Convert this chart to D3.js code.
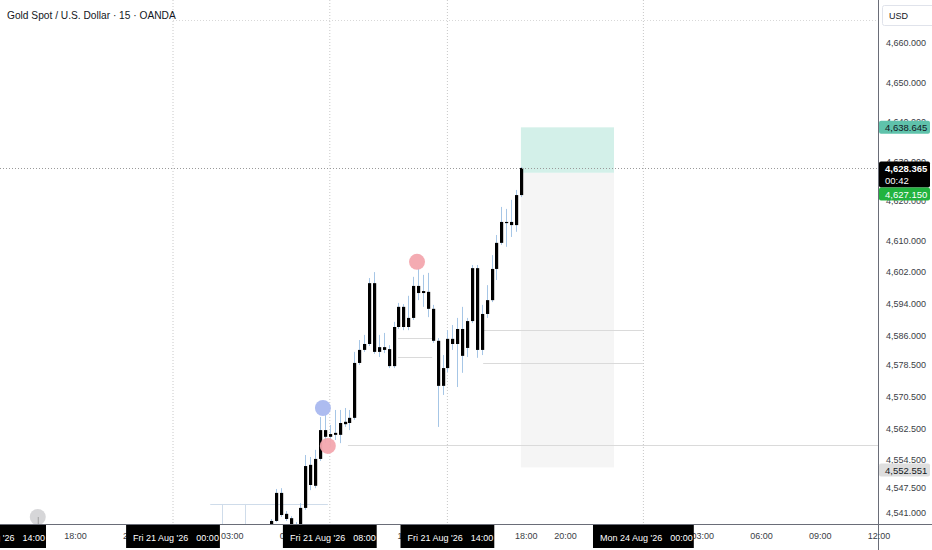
<!DOCTYPE html>
<html><head><meta charset="utf-8">
<script src="https://cdn.jsdelivr.net/npm/d3@7"></script>
<style>
html,body{margin:0;padding:0;background:#fff;overflow:hidden;}
svg{display:block;font-family:"Liberation Sans",Arial,sans-serif;}
</style></head><body>
<svg id="chart" width="932" height="550"></svg>
<script>
// ---- data ----
const title = "Gold Spot / U.S. Dollar \u00b7 15 \u00b7 OANDA";
const times = ["05:00","05:15","05:30","05:45","06:00","06:15","06:30","06:45","07:00","07:15","07:30","07:45",
  "08:00","08:15","08:30","08:45","09:00","09:15","09:30","09:45","10:00","10:15","10:30","10:45",
  "11:00","11:15","11:30","11:45","12:00","12:15","12:30","12:45","13:00","13:15","13:30","13:45",
  "14:00","14:15","14:30","14:45","15:00","15:15","15:30","15:45","16:00","16:15","16:30","16:45",
  "17:00","17:15","17:30","17:45"];
const open = [4538.2,4539.0,4546.1,4540.8,4539.7,4538.2,4536.7,4542.3,4553.2,4547.9,4554.7,4562.0,4560.3,4560.8,4560.8,4563.5,4563.8,4565.1,4579.0,4582.3,4583.8,4599.2,4581.8,4583.0,4582.5,4578.2,4588.1,4593.2,4588.1,4590.4,4598.5,4596.7,4597.0,4592.7,4584.6,4573.2,4577.7,4585.1,4583.8,4587.6,4582.8,4589.6,4603.0,4582.3,4591.4,4594.9,4602.8,4609.4,4614.7,4613.9,4613.9,4621.5];
const high = [4539.5,4547.1,4547.3,4541.5,4540.2,4538.7,4543.5,4555.7,4555.2,4557.0,4565.3,4565.8,4563.3,4567.1,4567.1,4567.6,4567.1,4581.8,4584.8,4586.1,4600.5,4602.0,4586.1,4586.6,4583.5,4589.4,4594.2,4593.9,4596.0,4600.8,4603.0,4601.3,4601.8,4593.7,4585.3,4581.0,4587.3,4588.6,4590.4,4593.2,4590.4,4603.8,4603.8,4593.7,4598.7,4606.3,4611.4,4618.5,4618.0,4620.3,4622.8,4628.6];
const low = [4538.0,4538.7,4540.0,4539.0,4537.5,4535.4,4536.0,4541.8,4546.8,4547.3,4554.2,4558.7,4557.7,4559.5,4558.7,4562.8,4562.0,4564.6,4578.5,4581.8,4583.3,4581.3,4580.5,4581.5,4577.7,4577.7,4587.6,4587.3,4587.3,4589.9,4594.9,4593.2,4590.6,4584.1,4562.8,4570.9,4576.7,4582.3,4572.9,4576.5,4580.5,4589.1,4580.3,4581.0,4590.4,4594.4,4600.0,4608.9,4608.4,4610.9,4612.2,4621.0];
const close = [4539.0,4546.1,4540.5,4539.5,4538.2,4536.2,4542.3,4552.9,4548.1,4554.7,4562.0,4560.3,4561.0,4561.3,4563.8,4564.1,4565.1,4579.0,4582.3,4583.8,4599.2,4581.8,4583.0,4582.3,4578.2,4588.1,4593.2,4588.1,4590.4,4598.5,4596.7,4597.2,4592.7,4584.6,4573.2,4577.7,4585.1,4583.8,4587.6,4580.8,4589.6,4603.0,4582.3,4591.4,4594.9,4602.8,4609.4,4614.7,4614.4,4614.7,4621.5,4628.365];

const priceTicks = [4660, 4650, 4640, 4630, 4620, 4610, 4602, 4594, 4586, 4578.5, 4570.5, 4562.5, 4554.5, 4547.5, 4541];
// bar index: 0 = Fri 21 Aug 00:00, one bar = 15 min
const timeTickIdx = [-20, -8, 12, 24, 48, 72, 80, 108, 120, 132, 144];
const timeTickLabels = ["18:00","21:00","03:00","06:00","12:00","18:00","20:00","03:00","06:00","09:00","12:00"];
const majorIdx = [-36, 0, 32, 56, 96];
const majorDates = ["Thu 20 Aug '26","Fri 21 Aug '26","Fri 21 Aug '26","Fri 21 Aug '26","Mon 24 Aug '26"];
const majorTimes = ["14:00","00:00","08:00","14:00","00:00"];

const lastPrice = 4628.365, countdown = "00:42";
const entryPrice = 4627.150, targetPrice = 4638.645, stopPrice = 4552.551;
const positionFrom = 71, positionTo = 90;

const levelPrices = [4585.3, 4580.5, 4587.3, 4579.0, 4558.2, 4543.3];
const levelFrom =   [45.9, 45.9, 63.3, 63.3, 35.7, 7.6];
const levelTo =     [52.9, 52.9, 95.9, 95.9, 144, 31.6];
const markerIdx =   [-27.6, 30.6, 31.6, 49.8];
const markerPrice = [4540.0, 4567.6, 4558.0, 4604.6];
const markerColor = ["#d4d4d6", "#a9b8ef", "#f3a7ae", "#f3a7ae"];

// ---- layout ----
const W = 932, H = 550, plotR = 878, plotB = 524;
const svg = d3.select("#chart");
const x = d3.scaleLinear().domain([0, 96]).range([173, 643.4]);
const y = d3.scaleLinear().domain([4541, 4660]).range([513.05, 43]);
const barIdx = t => { const [h, m] = t.split(":").map(Number); return h * 4 + m / 15; };

svg.append("defs").append("clipPath").attr("id", "plot")
  .append("rect").attr("x", 0).attr("y", 0).attr("width", plotR).attr("height", plotB);
const g = svg.append("g").attr("clip-path", "url(#plot)");

// position zones
g.append("rect").attr("x", x(positionFrom)).attr("width", x(positionTo) - x(positionFrom))
  .attr("y", y(entryPrice)).attr("height", y(stopPrice) - y(entryPrice)).attr("fill", "#f5f5f5");
g.append("rect").attr("x", x(positionFrom)).attr("width", x(positionTo) - x(positionFrom))
  .attr("y", y(targetPrice)).attr("height", y(entryPrice) - y(targetPrice)).attr("fill", "#d3f0e9");

// grid
g.selectAll(".vg").data(majorIdx.slice(1)).enter().append("line")
  .attr("x1", d => x(d)).attr("x2", d => x(d)).attr("y1", 0).attr("y2", plotB)
  .attr("stroke", "#c8c8c8").attr("stroke-dasharray", "1,2");
g.append("line").attr("x1", x(0)).attr("x2", plotR).attr("y1", 20.5).attr("y2", 20.5)
  .attr("stroke", "#d8d8d8").attr("stroke-dasharray", "1,2");

// levels
levelPrices.forEach((p, i) => {
  g.append("line").attr("x1", x(levelFrom[i])).attr("x2", x(levelTo[i]))
    .attr("y1", Math.round(y(p)) + 0.5).attr("y2", Math.round(y(p)) + 0.5)
    .attr("stroke", i === 5 ? "#cfdcea" : "#dadada").attr("stroke-width", 1);
});
[10, 14.7].forEach(d => {
  g.append("line").attr("x1", Math.round(x(d)) + 0.5).attr("x2", Math.round(x(d)) + 0.5)
    .attr("y1", y(levelPrices[5])).attr("y2", plotB).attr("stroke", "#cfdcea");
});

// candles
const bars = times.map((t, i) => ({ i: barIdx(t), o: open[i], h: high[i], l: low[i], c: close[i] }));
g.selectAll(".wick").data(bars).enter().append("line")
  .attr("x1", d => Math.round(x(d.i)) + 0.5).attr("x2", d => Math.round(x(d.i)) + 0.5)
  .attr("y1", d => y(d.h)).attr("y2", d => y(d.l))
  .attr("stroke", "#a6c6e6").attr("stroke-width", 1);
g.selectAll(".body").data(bars).enter().append("rect")
  .attr("x", d => Math.round(x(d.i)) - 1).attr("width", 3.2)
  .attr("y", d => y(Math.max(d.o, d.c)))
  .attr("height", d => Math.max(1, Math.abs(y(d.o) - y(d.c))))
  .attr("fill", "#000");

// markers
markerIdx.forEach((d, i) => {
  g.append("circle").attr("cx", x(d)).attr("cy", y(markerPrice[i])).attr("r", 8)
    .attr("fill", markerColor[i]).attr("opacity", 0.95);
});
g.append("line").attr("x1", x(markerIdx[0]) + 0.5).attr("x2", x(markerIdx[0]) + 0.5)
  .attr("y1", y(markerPrice[0])).attr("y2", plotB).attr("stroke", "#a0a0a0");

// last price line
g.append("line").attr("x1", 0).attr("x2", plotR).attr("y1", Math.round(y(lastPrice)) + 0.5).attr("y2", Math.round(y(lastPrice)) + 0.5)
  .attr("stroke", "#9a9a9a").attr("stroke-dasharray", "1,2");

// title
svg.append("text").attr("x", 7).attr("y", 19).attr("font-size", 10.2).attr("fill", "#131722").text(title);

// axes frame
svg.append("line").attr("x1", 0).attr("x2", W).attr("y1", plotB + 0.5).attr("y2", plotB + 0.5).attr("stroke", "#6a6d78");
svg.append("line").attr("x1", plotR + 0.5).attr("x2", plotR + 0.5).attr("y1", 0).attr("y2", H).attr("stroke", "#6a6d78");

// price axis
const yAxis = svg.append("g").attr("transform", `translate(${plotR + 8},0)`)
  .call(d3.axisRight(y).tickValues(priceTicks).tickFormat(d3.format(",.3f")).tickSize(0).tickPadding(0));
yAxis.select(".domain").remove();
yAxis.selectAll("text").attr("font-size", 9).attr("fill", "#3a3d45").attr("font-family", "Liberation Sans, Arial, sans-serif");

// USD box
svg.append("rect").attr("x", 882.5).attr("y", 5.5).attr("width", 52).attr("height", 20).attr("rx", 2)
  .attr("fill", "#fff").attr("stroke", "#e0e3eb");
svg.append("text").attr("x", 889).attr("y", 19).attr("font-size", 9).attr("fill", "#131722").text("USD");

// price badges
const fmt = d3.format(",.3f");
function badge(cy, h, bg, fg, lines, bold) {
  svg.append("rect").attr("x", plotR + 1).attr("y", cy - h / 2).attr("width", 51).attr("height", h).attr("rx", 2).attr("fill", bg);
  lines.forEach((t, k) => {
    svg.append("text").attr("x", plotR + 7).attr("y", cy - h / 2 + 10.5 + k * 12.5).attr("font-size", 9.5)
      .attr("font-weight", bold && k === 0 ? "bold" : "normal").attr("fill", fg).text(t);
  });
}
badge(y(targetPrice), 13, "#5fc2ab", "#131722", [fmt(targetPrice)]);
badge(y(lastPrice) + 6.5, 26, "#000", "#fff", [fmt(lastPrice), countdown], true);
badge(y(lastPrice) + 26, 13, "#22b33f", "#fff", [fmt(entryPrice)]);
badge(y(stopPrice) + 2.5, 13, "#dedede", "#131722", [fmt(stopPrice)]);

// time axis
const xAxis = svg.append("g").attr("transform", `translate(0,${plotB})`)
  .call(d3.axisBottom(x).tickValues(timeTickIdx).tickFormat((d, i) => timeTickLabels[i]).tickSize(0).tickPadding(9));
xAxis.select(".domain").remove();
xAxis.selectAll("text").attr("font-size", 9).attr("fill", "#3a3d45").attr("font-family", "Liberation Sans, Arial, sans-serif");

// highlighted time labels
majorIdx.forEach((d, i) => {
  const cx = x(d);
  const gg = svg.append("g");
  const r = gg.append("rect").attr("fill", "#000");
  const t = gg.append("text").attr("y", plotB + 16.5).attr("font-size", 9).attr("fill", "#fff");
  t.append("tspan").text(majorDates[i]);
  t.append("tspan").attr("dx", 8).text(majorTimes[i]);
  const w = t.node().getComputedTextLength() + 8;
  t.attr("x", cx - w / 2 + 3);
  r.attr("x", cx - w / 2 - 4).attr("y", plotB + 1).attr("width", w + 8).attr("height", 23);
});
// clear right-bottom corner of price panel line below axis
</script>
</body></html>
